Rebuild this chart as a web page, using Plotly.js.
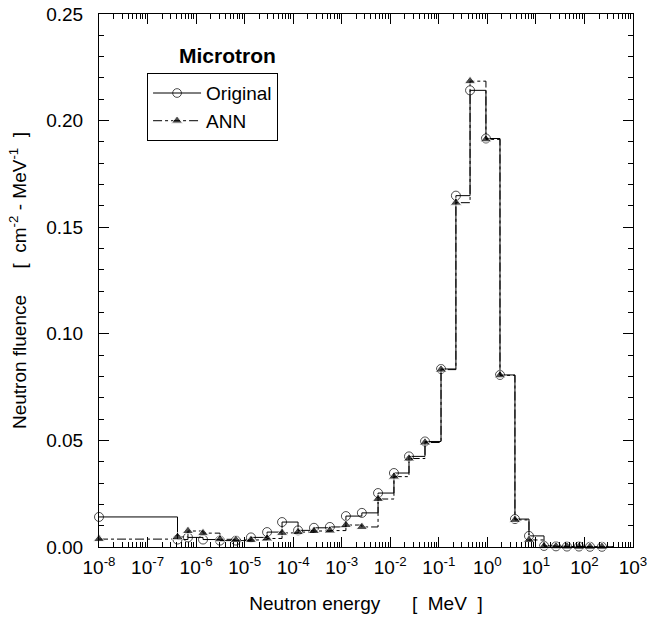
<!DOCTYPE html>
<html>
<head>
<meta charset="utf-8">
<script src="https://cdn.plot.ly/plotly-3.0.1.min.js"></script>
<style>html,body{margin:0;padding:0;background:#fff}#chart{width:648px;height:621px}</style>
</head>
<body>
<div id="chart"></div>
<script>
// Bin lower edges (MeV); last entry closes the final bin
var binEdges = [1e-8, 4.14e-7, 6.8e-7, 1.39e-6, 3.1e-6, 6.6e-6, 1.35e-5, 2.9e-5, 5.9e-5, 1.26e-4, 2.68e-4, 5.7e-4, 1.22e-3, 2.6e-3, 5.6e-3, 0.0119, 0.0243, 0.0519, 0.111, 0.225, 0.44, 0.935, 1.82, 3.7, 7.2, 14.7, 25.9, 43.6, 77, 130, 229, 400];
// Neutron fluence per bin
var original = [0.0141, 0.0035, 0.0045, 0.0035, 0.0030, 0.0030, 0.0045, 0.0070, 0.0117, 0.0078, 0.0090, 0.0094, 0.0145, 0.0160, 0.0253, 0.0347, 0.0425, 0.0495, 0.0835, 0.1648, 0.2142, 0.1916, 0.0807, 0.0131, 0.0052, 0.0005, 0.0003, 0.0002, 0.0002, 0.0001, 0.0001];
var ann = [0.0037, 0.0047, 0.0075, 0.0065, 0.0036, 0.0033, 0.0033, 0.0040, 0.0066, 0.0070, 0.0075, 0.0077, 0.0103, 0.0094, 0.0225, 0.0330, 0.0415, 0.0490, 0.0832, 0.1615, 0.2185, 0.1912, 0.0805, 0.0127, 0.0033, 0.0004, 0.0003, 0.0002, 0.0001, 0.0001, 0.0001];
var seriesNames = ["Original", "ANN"];
// Tick labels
var xTickVals = [1e-8, 1e-7, 1e-6, 1e-5, 1e-4, 1e-3, 1e-2, 1e-1, 1e0, 1e1, 1e2, 1e3];
var xTickText = ["10<sup>-8</sup>", "10<sup>-7</sup>", "10<sup>-6</sup>", "10<sup>-5</sup>", "10<sup>-4</sup>", "10<sup>-3</sup>", "10<sup>-2</sup>", "10<sup>-1</sup>", "10<sup>0</sup>", "10<sup>1</sup>", "10<sup>2</sup>", "10<sup>3</sup>"];
var yTickVals = [0, 0.05, 0.10, 0.15, 0.20, 0.25];
var yTickText = ["0.00", "0.05", "0.10", "0.15", "0.20", "0.25"];

function stepY(v){ return v.concat([v[v.length-1]]); }
function sizes(n, s){ var a=[]; for(var i=0;i<n;i++) a.push(s); a.push(0); return a; }

var traces = [
  {x: binEdges, y: stepY(original), name: seriesNames[0], mode: 'lines+markers', line: {shape: 'hv', color: '#000', width: 1, dash: 'solid'},
   marker: {symbol: 'circle-open', size: sizes(original.length, 9), color: '#000', line: {width: 1, color: '#000'}}, cliponaxis: false},
  {x: binEdges, y: stepY(ann), name: seriesNames[1], mode: 'lines+markers', line: {shape: 'hv', color: '#000', width: 1, dash: 'dashdot'},
   marker: {symbol: 'triangle-up', size: sizes(ann.length, 10), color: '#000'}, cliponaxis: false}
];

var fam = '"Liberation Sans", Arial, sans-serif';
var tickFont = {family: fam, size: 19, color: '#000'};
var titleFont = {family: fam, size: 19, color: '#000'};
var sp = '\u00a0';
var layout = {
  width: 648, height: 621,
  margin: {l: 99, r: 15, t: 14, b: 74},
  paper_bgcolor: '#fff', plot_bgcolor: '#fff',
  font: {family: fam, size: 19, color: '#000'},
  showlegend: true,
  legend: {x: 0.09, y: 0.889, xanchor: 'left', yanchor: 'top', bordercolor: '#000', borderwidth: 1, bgcolor: '#fff',
           font: {family: fam, size: 19, color: '#000'}, tracegroupgap: 0, itemwidth: 48},
  xaxis: {type: 'log', range: [-8, 3], tickmode: 'array', tickvals: xTickVals, ticktext: xTickText,
          ticks: 'inside', ticklen: 10, tickwidth: 1, tickcolor: '#000', showline: true, linecolor: '#000', linewidth: 1,
          mirror: 'allticks', showgrid: false, zeroline: false,
          minor: {dtick: 'D1', ticks: 'inside', ticklen: 5, tickwidth: 1, tickcolor: '#000', showgrid: false},
          tickfont: tickFont, ticklabelstandoff: 3,
          title: {text: 'Neutron energy' + sp.repeat(6) + '[' + sp + sp + 'MeV' + sp + sp + ']', font: titleFont, standoff: 19}},
  yaxis: {range: [0, 0.25], tickmode: 'array', tickvals: yTickVals, ticktext: yTickText,
          ticks: 'inside', ticklen: 10, tickwidth: 1, tickcolor: '#000', showline: true, linecolor: '#000', linewidth: 1,
          mirror: 'allticks', showgrid: false, zeroline: false,
          minor: {dtick: 0.01, ticks: 'inside', ticklen: 5, tickwidth: 1, tickcolor: '#000', showgrid: false},
          tickfont: tickFont, ticklabelstandoff: 11,
          title: {text: 'Neutron fluence' + sp.repeat(5) + '[' + sp + sp + 'cm<sup>-2</sup>' + sp + '-' + sp + 'MeV<sup>-1</sup>' + sp + sp + ']', font: titleFont, standoff: 14}},
  annotations: [{text: '<b>Microtron</b>', x: 0.24, y: 0.923, xref: 'paper', yref: 'paper', showarrow: false,
                 font: {family: fam, size: 21, color: '#000'}, xanchor: 'center', yanchor: 'middle'}]
};
Plotly.newPlot('chart', traces, layout, {displayModeBar: false, staticPlot: true});
</script>
</body>
</html>
